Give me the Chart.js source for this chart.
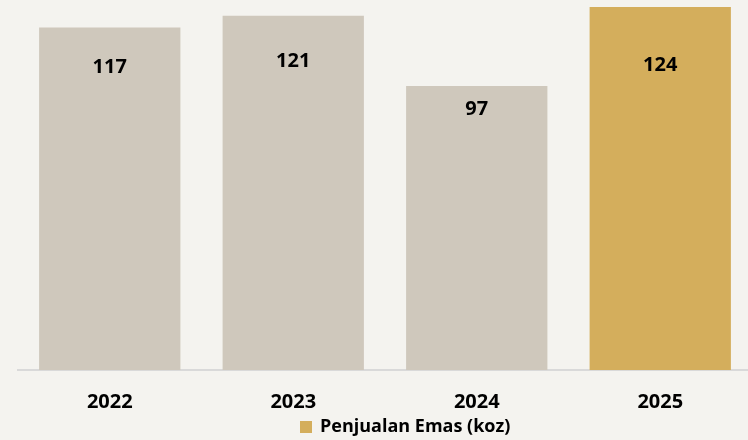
<!DOCTYPE html>
<html>
<head>
<meta charset="utf-8">
<script src="https://cdn.jsdelivr.net/npm/chart.js@4/dist/chart.umd.min.js"></script>
<style>
  html, body { margin: 0; padding: 0; background: #F4F3EF; overflow: hidden; }
  #wrap { width: 752px; height: 440px; position: relative; }
</style>
</head>
<body>
<div id="wrap"><canvas id="salesChart"></canvas></div>
<script>
const years = ["2022", "2023", "2024", "2025"];
const goldSales = [117, 121, 97, 124];
const seriesName = "Penjualan Emas (koz)";

const colors = {
  bar: "#CFC8BC",
  highlight: "#D4AE5C",
  axis: "#D9D9D9",
  text: "#000000"
};

const fontFamily = "'Open Sans', 'Liberation Sans', sans-serif";

// label offsets below the bar top (px), as laid out in the source
const labelOffsets = [40, 45, 23, 58];

/* ===============================
   VALUE LABELS INSIDE BARS
================================ */
const barLabels = {
  id: "barLabels",
  afterDatasetsDraw(chart) {
    const ctx = chart.ctx;
    const meta = chart.getDatasetMeta(0);
    ctx.save();
    ctx.font = `bold 20px ${fontFamily}`;
    ctx.fillStyle = colors.text;
    ctx.textAlign = "center";
    ctx.textBaseline = "middle";
    meta.data.forEach((bar, i) => {
      ctx.fillText(String(goldSales[i]), bar.x, bar.y + labelOffsets[i]);
    });
    ctx.restore();
  }
};

/* ===============================
   LEGEND
================================ */
const bottomLegend = {
  id: "bottomLegend",
  afterDraw(chart) {
    const ctx = chart.ctx;
    ctx.save();
    ctx.fillStyle = colors.highlight;
    ctx.fillRect(300, 421, 12, 12);
    ctx.font = `bold 18px ${fontFamily}`;
    ctx.fillStyle = colors.text;
    ctx.textAlign = "left";
    ctx.textBaseline = "middle";
    ctx.fillText(seriesName, 320, 427);
    ctx.restore();
  }
};

new Chart(document.getElementById("salesChart"), {
  type: "bar",
  data: {
    labels: years,
    datasets: [{
      label: seriesName,
      data: goldSales,
      backgroundColor: years.map((y, i) => i === years.length - 1 ? colors.highlight : colors.bar),
      borderWidth: 0,
      categoryPercentage: 1,
      barPercentage: 0.77
    }]
  },
  options: {
    responsive: true,
    maintainAspectRatio: false,
    animation: false,
    layout: { padding: { left: 18, right: 0, top: 0, bottom: 6 } },
    plugins: {
      legend: { display: false },
      tooltip: { enabled: false }
    },
    scales: {
      x: {
        grid: { display: false, drawTicks: false },
        border: { color: colors.axis, width: 2 },
        ticks: {
          color: colors.text,
          padding: 20,
          font: { family: fontFamily, size: 20, weight: "bold" }
        }
      },
      y: {
        display: false,
        min: 0,
        max: 126.4
      }
    }
  },
  plugins: [barLabels, bottomLegend]
});
</script>
</body>
</html>
